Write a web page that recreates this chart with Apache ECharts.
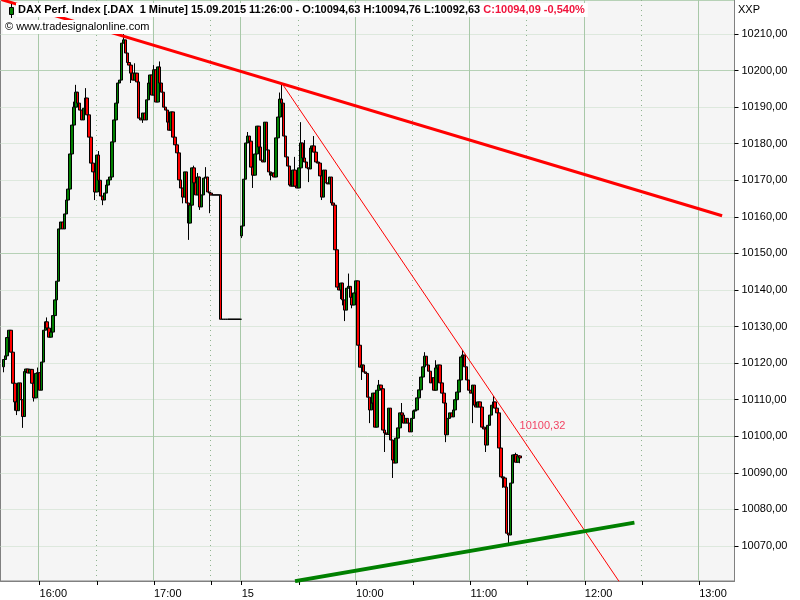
<!DOCTYPE html>
<html>
<head>
<meta charset="utf-8">
<script src="https://cdn.jsdelivr.net/npm/echarts@6/dist/echarts.min.js"></script>
<style>html,body{margin:0;padding:0;background:#fff}#c{width:800px;height:600px}</style>
</head>
<body>
<div id="c"></div>
<script>
// ---------- data ----------
const headerBlack = 'DAX Perf. Index [.DAX  1 Minute] 15.09.2015 11:26:00 - O:10094,63 H:10094,76 L:10092,63 ';
const headerRed = 'C:10094,09 -0,540%';
const copyright = '\u00a9 www.tradesignalonline.com';
const axisName = 'XXP';

// hourly axis labels: category value -> shown text
const labelTimes = ['14.09 16:00', '14.09 17:00', '15.09 09:00', '15.09 10:00', '15.09 11:00', '15.09 12:00', '15.09 13:00'];
const tickLabels = ['16:00', '17:00', '15', '10:00', '11:00', '12:00', '13:00'];

// closes, 1-minute bars, 14.09 15:41 .. 17:45
const day1Close = [
  10121, 10122, 10127, 10129, 10123, 10114.5, 10109.4, 10107, 10114.6, 10110,
  10105.4, 10117.7, 10118.4, 10117.3, 10118.3, 10114.5, 10110.5, 10117.2, 10117.4, 10112.6,
  10120.3, 10129, 10131.3, 10129.6, 10127.1, 10128.5, 10133, 10137.3, 10142.4, 10156.7,
  10158.6, 10156.7, 10160.8, 10164.6, 10167.6, 10177.2, 10185.1, 10190.0, 10194.1, 10191.1,
  10189.2, 10186.5, 10189.7, 10192.5, 10187.9, 10181.8, 10174.7, 10172.3, 10166.8, 10176.9,
  10170, 10165.7, 10164.6, 10166.5, 10168.7, 10170.1, 10170.9, 10180.5, 10186.5, 10191.1,
  10196.6, 10197.4, 10207.5, 10208.4, 10204.8, 10202.2, 10201.5, 10199.3, 10197.4, 10199.3,
  10196.9, 10187.0, 10186.5, 10188.4, 10186.5, 10192.0, 10196.6, 10198.8, 10193.3, 10200.2,
  10191.4, 10201, 10196.6, 10194.1, 10190.0, 10189.2, 10185.9, 10183.7, 10188.7, 10181.8,
  10179.7, 10177.5, 10170.1, 10167.9, 10165.4, 10172.3, 10163.8, 10158.3, 10163.2, 10173.4,
  10169.3, 10166, 10170.9, 10162.7, 10166, 10170.6, 10170.9, 10166.8, 10166.5, 10166,
  10166, 10166, 10166, 10166, 10132, 10132, 10132, 10132, 10132, 10132,
  10132, 10132, 10132, 10132, 10132
];
// closes, 1-minute bars, 15.09 09:00 .. 11:26
const day2Close = [
  10157.5, 10170.3, 10180.2, 10182.1, 10180.7, 10173.6, 10171.4, 10177.2, 10184.8, 10179.1,
  10175.5, 10175.0, 10185.9, 10178.3, 10172.3, 10171.4, 10172, 10170.9, 10181.6, 10187.3,
  10192.2, 10191.1, 10182.1, 10176.4, 10173.9, 10168.7, 10168.4, 10172.8, 10168.4, 10167.9,
  10173.4, 10180.2, 10176.1, 10175, 10173.4, 10173.1, 10178.8, 10179.4, 10177.7, 10175,
  10174.7, 10171.2, 10165.4, 10172.8, 10169.3, 10169, 10170.9, 10163.8, 10163.2, 10151,
  10140.8, 10140, 10141.9, 10137.3, 10134.5, 10140.5, 10141, 10138, 10135.9, 10139.2,
  10142.5, 10124.9, 10118.9, 10119.5, 10117.6, 10117.2, 10110.7, 10107.2, 10109.1, 10111.8,
  10102.5, 10112.6, 10114, 10113, 10101.7, 10100.9, 10100.5, 10107.7, 10099, 10093.5,
  10092.7, 10099.5, 10102.3, 10106.4, 10105.8, 10103.6, 10104.9, 10103.6, 10101.2, 10104.9,
  10106.9, 10107.2, 10110.5, 10112.7, 10116.2, 10119, 10121.9, 10119.5, 10117.8, 10114.6,
  10116, 10112.6, 10118.7, 10119.5, 10114.6, 10111.8, 10109.1, 10100.4, 10104.9, 10106.4,
  10105.3, 10107.2, 10110, 10112.1, 10115.4, 10121.7, 10122.2, 10119, 10115.4, 10112.6,
  10111.8, 10114, 10108.5, 10108, 10109.4, 10108, 10102.5, 10102, 10097.6, 10103,
  10105.8, 10108.5, 10109.4, 10107.7, 10106.4, 10096.8, 10088.9, 10088.6, 10086.1, 10073.5,
  10073, 10087.2, 10094.9, 10095, 10092.9, 10094.63, 10094.09
];
// wick / open values, keyed by minute slot (0 = 16:00 on 14.09)
const highs = {
  '-1': 10118.8, 4: 10132.5, 18: 10191.5, 19: 10196.1, 24: 10195.2, 31: 10178, 44: 10210.5, 50: 10202,
  60: 10201.5, 63: 10202.5, 81: 10174, 83: 10172, 87: 10173.6,
  109: 10183.2, 126: 10194, 127: 10196.6, 130: 10176.4, 134: 10176.4, 137: 10185.9, 139: 10181,
  144: 10182.1, 157: 10142.7, 162: 10144.5, 178: 10115.4, 190: 10109.1, 202: 10123, 208: 10120.8,
  222: 10123.6, 238: 10111, 250: 10095.5, 252: 10094.76
};
const lows = {
  '-19': 10117.5, '-13': 10107, '-12': 10105.8, '-9': 10102.3, '-3': 10109.5, 29: 10164.6, 33: 10163.2,
  48: 10196.6, 54: 10185.7, 75: 10163.7, 78: 10153.7, 84: 10161.9, 89: 10161,
  106: 10154.2, 112: 10167.9, 121: 10170, 141: 10169.5, 148: 10164.6, 158: 10137.5, 159: 10135.8,
  160: 10131.5, 164: 10135, 169: 10115.4, 173: 10103.6, 181: 10095.7, 185: 10088.6, 213: 10098.4,
  227: 10103.6, 234: 10095.7, 243: 10085.9, 246: 10070.7, 252: 10092.63
};
const opens = { '-19': 10119, 106: 10154.8 };

// trend lines: [slot, price]
const resistLong = [[-20, 10219.4], [358, 10160.3]];
const resistShort = [[127, 10196.6], [252, 10100.32], [304, 10060.27]];
const supportLine = [[134, 10060.4], [312, 10076.4]];
const resistLabel = '10100,32';

// ---------- build ----------
const FIRST = -20, LAST = 364;
function pad(n) { return (n < 10 ? '0' : '') + n; }
const cats = [];
const candles = [];
let prev = null;
for (let t = FIRST; t <= LAST; t++) {
  let m, d;
  if (t <= 105) { m = 16 * 60 + t; d = '14.09'; } else { m = 9 * 60 + (t - 106); d = '15.09'; }
  cats.push(d + ' ' + pad(Math.floor(m / 60)) + ':' + pad(m % 60));
  let c = null;
  if (t >= -19 && t <= 105) c = day1Close[t + 19];
  else if (t >= 106 && t < 106 + day2Close.length) c = day2Close[t - 106];
  if (c == null) { candles.push('-'); continue; }
  const o = opens[t] != null ? opens[t] : prev;
  const h = Math.max(o, c, highs[t] != null ? highs[t] : -Infinity);
  const l = Math.min(o, c, lows[t] != null ? lows[t] : Infinity);
  candles.push([o, c, l, h]);
  prev = c;
}
const idx = p => [p[0] - FIRST, p[1]];

const FONT = '"Liberation Sans", Arial, sans-serif';
const GRID = '#a8c8a8';
const DOT = '#8fb38f';
const HDOT = '#c4dac4';
const YMIN = 10060.43, YMAX = 10219.3;
const isHour = v => labelTimes.indexOf(v) >= 0;
const isHalf = v => /:30$/.test(v);

const chart = echarts.init(document.getElementById('c'), null, { renderer: 'canvas' });
chart.setOption({
  animation: false,
  backgroundColor: '#ffffff',
  textStyle: { fontFamily: FONT },
  title: [
    {
      text: '{b|' + headerBlack + '}{r|' + headerRed + '}',
      left: 16, top: 3, padding: [1, 3, 2, 2], backgroundColor: '#ffffff',
      textStyle: { rich: {
        b: { fontSize: 11, fontFamily: FONT, color: '#000000' },
        r: { fontSize: 11, fontFamily: FONT, color: '#f0143c' }
      } }
    },
    {
      text: copyright, left: 3, top: 20, padding: [1, 3, 2, 2], backgroundColor: '#ffffff',
      textStyle: { fontSize: 11, fontWeight: 'normal', fontFamily: FONT, color: '#000000' }
    },
    {
      text: axisName, left: 738, top: 4, padding: 0,
      textStyle: { fontSize: 11, fontWeight: 'normal', fontFamily: FONT, color: '#000000' }
    }
  ],
  graphic: [
    { type: 'line', z: 100, shape: { x1: 11.5, y1: 4, x2: 11.5, y2: 18 }, style: { stroke: '#000', lineWidth: 1 } },
    { type: 'rect', z: 101, shape: { x: 9.5, y: 7.5, width: 4, height: 7 }, style: { fill: '#008000', stroke: '#000', lineWidth: 1 } }
  ],
  grid: {
    left: 0.5, top: 0, width: 734, height: 581,
    show: true, backgroundColor: '#f5f5f5', borderColor: '#808080', borderWidth: 1,
    containLabel: false, outerBoundsMode: 'none'
  },
  xAxis: [
    {
      type: 'category', data: cats, boundaryGap: true,
      axisLine: { show: true, lineStyle: { color: '#808080' } },
      axisTick: { show: true, alignWithLabel: true, length: 4, lineStyle: { color: '#000' },
        interval: (i, v) => isHour(v) || isHalf(v) },
      axisLabel: { show: true, interval: (i, v) => isHour(v), align: 'left', margin: 7,
        fontSize: 11, fontFamily: FONT, color: '#000',
        formatter: v => tickLabels[labelTimes.indexOf(v)] },
      splitLine: { show: true, interval: (i, v) => isHour(v), lineStyle: { color: GRID, width: 1 } }
    },
    {
      type: 'category', data: cats, boundaryGap: true,
      axisLine: { show: false }, axisTick: { show: false }, axisLabel: { show: false },
      splitLine: { show: true, interval: (i, v) => isHalf(v), lineStyle: { color: DOT, width: 1, type: [1, 4] } }
    }
  ],
  yAxis: [
    {
      type: 'value', position: 'right', min: YMIN, max: YMAX,
      splitNumber: 16, minInterval: 10, maxInterval: 10, scale: true,
      axisLine: { show: true, lineStyle: { color: '#808080' } },
      axisTick: { show: true, length: 4, lineStyle: { color: '#000' } },
      axisLabel: { show: true, margin: 7, fontSize: 11, fontFamily: FONT, color: '#000',
        showMinLabel: false, showMaxLabel: false,
        formatter: v => v.toFixed(2).replace('.', ',') },
      splitLine: { show: false }
    },
    {
      type: 'value', position: 'right', min: YMIN, max: YMAX,
      splitNumber: 3, minInterval: 50, maxInterval: 50, scale: true,
      axisLine: { show: false }, axisTick: { show: false }, axisLabel: { show: false },
      splitLine: { show: true, lineStyle: { color: GRID, width: 1 } }
    },
    {
      type: 'value', position: 'right', min: YMIN, max: YMAX,
      splitNumber: 16, minInterval: 10, maxInterval: 10, scale: true,
      axisLine: { show: false }, axisTick: { show: false }, axisLabel: { show: false },
      splitLine: { show: true, lineStyle: { color: HDOT, width: 1, type: 'dotted' } }
    }
  ],
  series: [
    {
      type: 'candlestick', xAxisIndex: 0, yAxisIndex: 0, data: candles, barWidth: 3, z: 2,
      itemStyle: { color: '#008000', color0: '#ff0000', borderColor: '#000000', borderColor0: '#000000',
        borderColorDoji: '#000000', borderWidth: 1 }
    },
    {
      type: 'line', xAxisIndex: 0, yAxisIndex: 0, data: resistLong.map(idx), symbol: 'none', z: 4,
      lineStyle: { color: '#ff0000', width: 3 }
    },
    {
      type: 'line', xAxisIndex: 0, yAxisIndex: 0, data: resistShort.map(idx), symbol: 'none', z: 4,
      lineStyle: { color: '#ff0000', width: 1 }
    },
    {
      type: 'line', xAxisIndex: 0, yAxisIndex: 0, data: supportLine.map(idx), symbol: 'none', z: 4,
      lineStyle: { color: '#008000', width: 4 }
    },
    {
      type: 'scatter', xAxisIndex: 0, yAxisIndex: 0, z: 5, symbolSize: 1,
      itemStyle: { color: 'rgba(0,0,0,0)' },
      data: [idx(resistShort[1])],
      label: { show: true, formatter: resistLabel, position: [0, -14], fontSize: 11, fontFamily: FONT, color: '#f0143c' }
    }
  ]
});
</script>
</body>
</html>
